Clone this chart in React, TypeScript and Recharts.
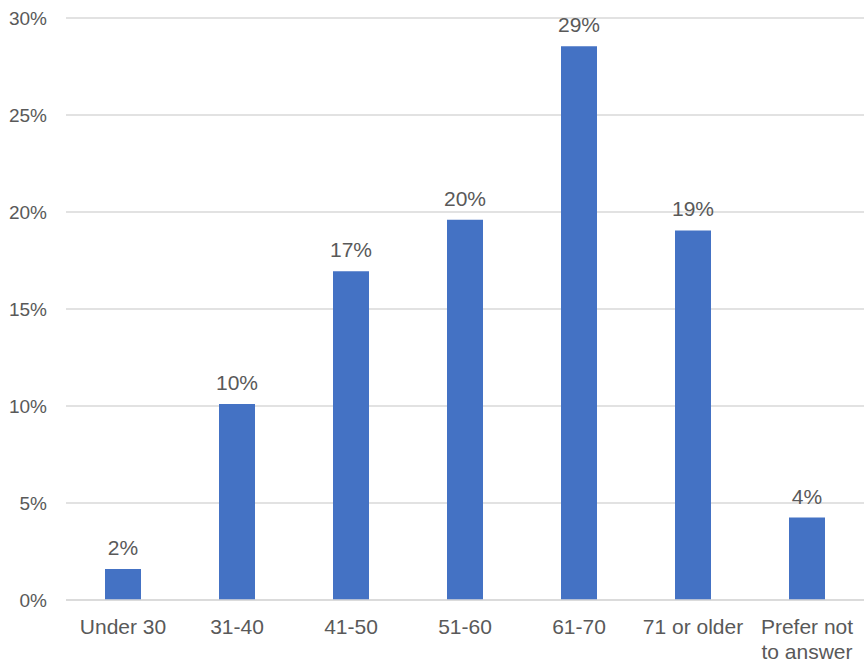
import React from "react";
import { BarChart, Bar, XAxis, YAxis, CartesianGrid, LabelList } from "recharts";

const categories = ["Under 30", "31-40", "41-50", "51-60", "61-70", "71 or older", "Prefer not to answer"];
const values = [1.6, 10.1, 16.95, 19.6, 28.55, 19.05, 4.25];
const yTicks = [0, 5, 10, 15, 20, 25, 30];

const data = categories.map((c, i) => ({ name: c, value: values[i] }));

const FONT = "'Liberation Sans', Arial, sans-serif";
const TEXT = "#595959";

const XTick = (props: any) => {
  const { x, y, payload } = props;
  const label: string = payload.value;
  const lines = label === "Prefer not to answer" ? ["Prefer not", "to answer"] : [label];
  return (
    <text x={x} y={y} textAnchor="middle" fill={TEXT} fontSize={21} fontFamily={FONT}>
      {lines.map((l, i) => (
        <tspan key={i} x={x} dy={i === 0 ? 34 : 25}>{l}</tspan>
      ))}
    </text>
  );
};

export default function App() {
  return (
    <div style={{ position: "absolute", left: 0, top: 0, width: 864, height: 663, background: "#fff" }}>
      <BarChart width={864} height={663} data={data} margin={{ top: 18, right: 0, left: 0, bottom: 0 }}>
        <CartesianGrid vertical={false} stroke="#D9D9D9" strokeWidth={1.3} />
        <XAxis
          dataKey="name"
          axisLine={{ stroke: "#D9D9D9", strokeWidth: 1.3 }}
          tickLine={false}
          tickSize={0}
          tickMargin={0}
          interval={0}
          tick={<XTick />}
          height={63}
        />
        <YAxis
          domain={[0, 30]}
          ticks={yTicks}
          tickFormatter={(v: number) => `${v}%`}
          axisLine={false}
          tickLine={false}
          tickSize={0}
          tickMargin={19}
          width={66}
          tick={{ fill: TEXT, fontSize: 19, fontFamily: FONT }}
        />
        <Bar dataKey="value" fill="#4472C4" barSize={36} isAnimationActive={false}>
          <LabelList
            dataKey="value"
            position="top"
            offset={14}
            formatter={(v: number) => `${Math.round(v)}%`}
            style={{ fill: TEXT, fontSize: 21, fontFamily: FONT }}
          />
        </Bar>
      </BarChart>
    </div>
  );
}
